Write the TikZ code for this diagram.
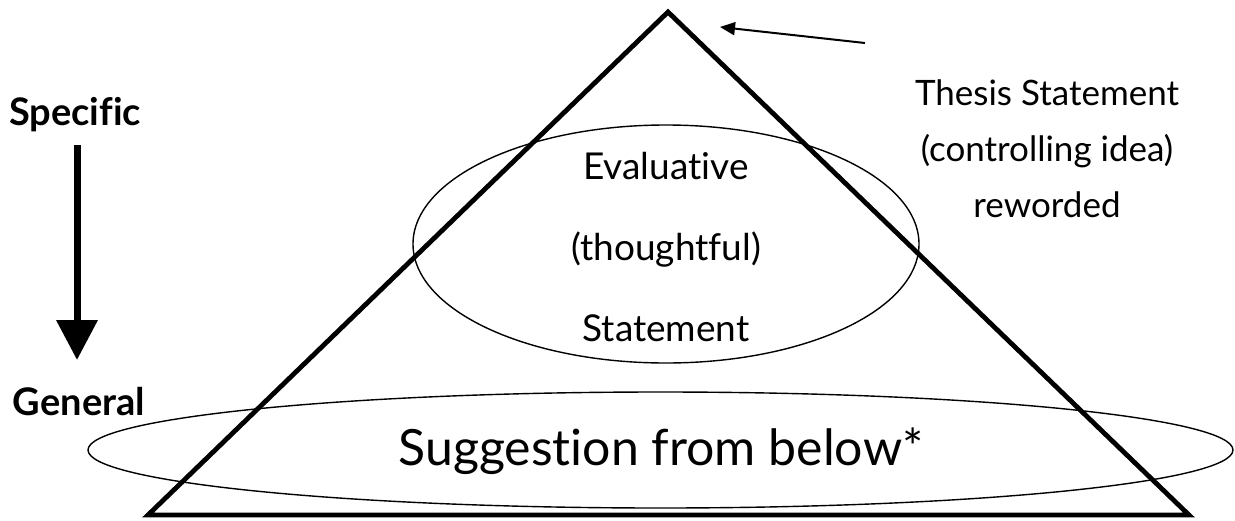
\documentclass[tikz,border=0pt]{standalone}
\usepackage{fontspec}
\setmainfont{Lato}[Ligatures=NoCommon]
\usetikzlibrary{arrows.meta,shapes.geometric}
\begin{document}
\begin{tikzpicture}[x=1pt,y=-1pt,
  oval/.style={draw,ellipse,line width=1.4pt,inner sep=0pt},
  lbl/.style={inner sep=0pt,anchor=base,align=center},
  thick edge/.style={line width=4.8pt,line join=miter}]
\useasboundingbox (0,0) rectangle (1235,520);
% triangle
\coordinate (apex) at (668,12);
\coordinate (bl) at (148,515);
\coordinate (br) at (1189,515);
\draw[thick edge] (apex) -- (br) -- (bl) -- cycle;
% ellipses
\node[oval,minimum width=506pt,minimum height=238pt] (e1) at (666,244) {};
\node[oval,minimum width=1145pt,minimum height=116pt] (e2) at (660.5,450) {};
% texts
\node[lbl,font=\fontsize{37}{81}\selectfont] (ev) at (666,341) {Evaluative\\(thoughtful)\\Statement};
\node[lbl,font=\fontsize{50}{60}\selectfont] (sug) at (661,465) {Suggestion from below*};
\node[lbl,font=\fontsize{35}{56}\selectfont] (th) at (1047,217) {Thesis Statement\\(controlling idea)\\reworded};
\node[lbl,font=\bfseries\fontsize{38}{40}\selectfont] (spec) at (75,125) {Specific};
\node[lbl,font=\bfseries\fontsize{38}{40}\selectfont] (gen) at (79,415) {General};
% arrows
\coordinate (sa) at (77,145);
\coordinate (sb) at (77,360);
\draw[line width=7pt,-{Triangle[length=40pt,width=40pt]}] (sa) -- (sb);
\coordinate (ta) at (865,43);
\coordinate (tb) at (720,27);
\draw[line width=2pt,-{Triangle[length=15pt,width=13pt]}] (ta) -- (tb);
\end{tikzpicture}
\end{document}
